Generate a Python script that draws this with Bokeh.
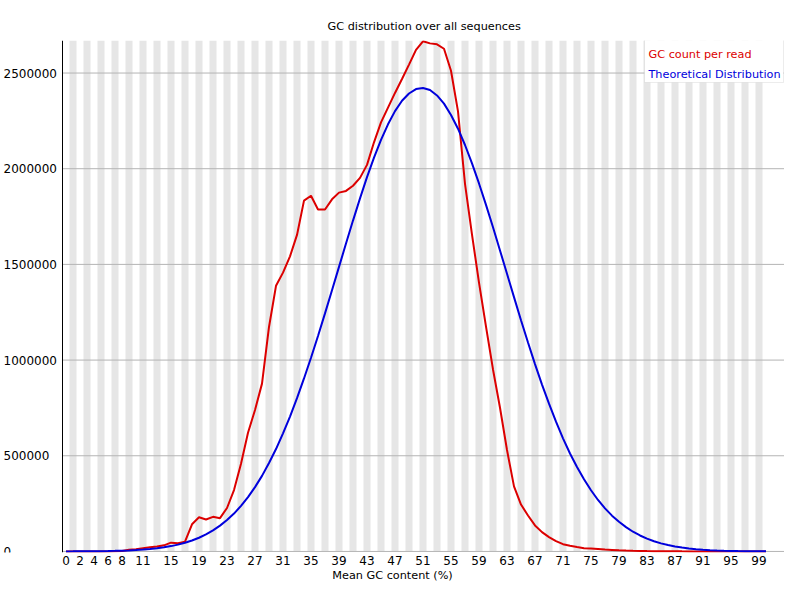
from bokeh.plotting import figure
from bokeh.models import Range1d, FixedTicker, Label, BoxAnnotation, Span
from bokeh.embed import file_html
from bokeh.resources import INLINE

# ---- data ----
GC_PERCENT = list(range(101))

GC_COUNT = [
    15, 0, 5, 10, 40, 120, 350, 900, 2300, 8700,
    12000, 17000, 22000, 26000, 32000, 46000, 43000, 51000, 142000, 179000,
    167000, 181000, 174000, 227000, 321000, 458000, 620000, 739000, 877000, 1173000,
    1388000, 1457000, 1542000, 1654000, 1833000, 1859000, 1787000, 1787000, 1840000, 1875000,
    1884000, 1911000, 1952000, 2020000, 2138000, 2242000, 2319000, 2396000, 2469000, 2544000,
    2621000, 2666000, 2655000, 2650000, 2627000, 2512000, 2300000, 1921000, 1656000, 1405000,
    1175000, 951000, 751000, 530000, 340000, 245000, 188000, 136000, 101000, 75000,
    54000, 38000, 30000, 23000, 17000, 15000, 13000, 10000, 8000, 6000,
    4500, 3500, 2700, 2000, 1500, 1100, 800, 600, 450, 330,
    250, 180, 130, 100, 70, 50, 35, 25, 18, 12,
    30,
]

THEORETICAL = [
    300, 430, 610, 860, 1190, 1640, 2250, 3050, 4130, 5540,
    7400, 9800, 12800, 16800, 21700, 27900, 35700, 45300, 57100, 71500,
    89000, 110000, 135000, 164000, 198000, 238000, 284000, 336000, 395000, 462000,
    535000, 617000, 705000, 801000, 904000, 1012000, 1126000, 1244000, 1365000, 1487000,
    1609000, 1729000, 1845000, 1956000, 2058000, 2151000, 2232000, 2301000, 2355000, 2393000,
    2416000, 2422000, 2411000, 2383000, 2340000, 2281000, 2209000, 2124000, 2028000, 1923000,
    1811000, 1694000, 1573000, 1451000, 1329000, 1208000, 1092000, 979000, 872000, 772000,
    678000, 591000, 512000, 441000, 377000, 320000, 269000, 225000, 187000, 155000,
    127000, 103000, 83400, 66900, 53300, 42200, 33200, 25900, 20100, 15500,
    11800, 9000, 6800, 5100, 3800, 2800, 2000, 1500, 1100, 770,
    550,
]

X_TICKS = [0, 2, 4, 6, 8, 11, 15, 19, 23, 27, 31, 35, 39, 43, 47, 51, 55, 59,
           63, 67, 71, 75, 79, 83, 87, 91, 95, 99]
Y_TICKS = [0, 500000, 1000000, 1500000, 2000000, 2500000]
Y_TICK_LABELS = ["0", "500000", "1000000", "1500000", "2000000", "2500000"]

TITLE = "GC distribution over all sequences"
X_LABEL = "Mean GC content (%)"
SERIES_NAMES = ["GC count per read", "Theoretical Distribution"]
SERIES_COLORS = ["#dc0000", "#0000dc"]

FONT = "DejaVu Sans"

# ---- layout constants ----
W, H = 784, 584
TOP, BOTTOM = 40, 31
AXIS_PX = 62          # pixel of the y axis line inside the figure
CAT_PX = 7            # pixel width of one category
X_START = -0.5 - AXIS_PX / CAT_PX
X_END = -0.5 + (W - AXIS_PX) / CAT_PX
Y_START, Y_END = -5500, 2670000

p = figure(
    width=W, height=H,
    x_range=Range1d(X_START, X_END),
    y_range=Range1d(Y_START, Y_END),
    output_backend="svg", toolbar_location=None,
    min_border=0,
    min_border_left=0, min_border_right=0,
    min_border_top=TOP, min_border_bottom=BOTTOM,
)
p.outline_line_color = None
p.background_fill_color = "white"
p.border_fill_color = "white"

p.title.text = TITLE
p.title.align = "left"
p.title.offset = 327
p.title.standoff = 16
p.title.text_font = FONT
p.title.text_font_size = "11.25px"
p.title.text_font_style = "normal"
p.title.text_color = "black"

# alternating category bands
band_x = [c for c in GC_PERCENT if c % 2 == 1]
p.vbar(x=band_x, width=1, top=Y_END, bottom=0, fill_color="#e6e6e6",
       line_color=None, level="image")

# horizontal grid lines starting at the y axis
p.xgrid.visible = False
p.ygrid.visible = False
p.segment(x0=-0.5, y0=Y_TICKS, x1=X_END, y1=Y_TICKS,
          line_color="#b4b4b4", line_width=1)

# y axis line
p.yaxis.visible = False
p.add_layout(Span(location=-0.5, dimension="height", line_color="black", line_width=1))

# y tick labels, left aligned like the reference
for v, t in zip(Y_TICKS, Y_TICK_LABELS):
    p.add_layout(Label(x=3, x_units="screen", y=v, y_units="data", text=t,
                       text_align="left", text_baseline="middle",
                       text_font=FONT, text_font_size="12px", text_color="black"))

# x axis
p.xaxis.ticker = FixedTicker(ticks=X_TICKS)
p.xaxis.major_tick_line_color = None
p.xaxis.minor_tick_line_color = None
p.xaxis.major_tick_out = 0
p.xaxis.major_tick_in = 0
p.xaxis.minor_tick_out = 0
p.xaxis.minor_tick_in = 0
p.xaxis.axis_line_color = None
p.xaxis.major_label_text_font = FONT
p.xaxis.major_label_text_font_size = "12px"
p.xaxis.major_label_text_color = "black"
p.xaxis.major_label_standoff = 3
p.xaxis.axis_label = X_LABEL
p.xaxis.axis_label_text_font = FONT
p.xaxis.axis_label_text_font_size = "11.25px"
p.xaxis.axis_label_text_font_style = "normal"
p.xaxis.axis_label_text_color = "black"
p.xaxis.axis_label_standoff = 1

# lines
p.line(GC_PERCENT, GC_COUNT, line_color=SERIES_COLORS[0], line_width=2)
p.line(GC_PERCENT, THEORETICAL, line_color=SERIES_COLORS[1], line_width=2)

# legend box (frame-relative screen units)
FH = H - TOP - BOTTOM
p.add_layout(BoxAnnotation(left=644, right=783, top=FH, bottom=FH - 43,
                           left_units="screen", right_units="screen",
                           top_units="screen", bottom_units="screen",
                           fill_color="white", fill_alpha=1.0,
                           line_color="#c0c0c0", line_width=1))
for k, (name, col) in enumerate(zip(SERIES_NAMES, SERIES_COLORS)):
    p.add_layout(Label(x=648, x_units="screen", y=FH - 15 - 20 * k, y_units="screen",
                       text=name, text_align="left", text_baseline="middle",
                       text_font=FONT, text_font_size="11.25px", text_color=col))

open("out.html", "w").write(file_html(p, INLINE))
